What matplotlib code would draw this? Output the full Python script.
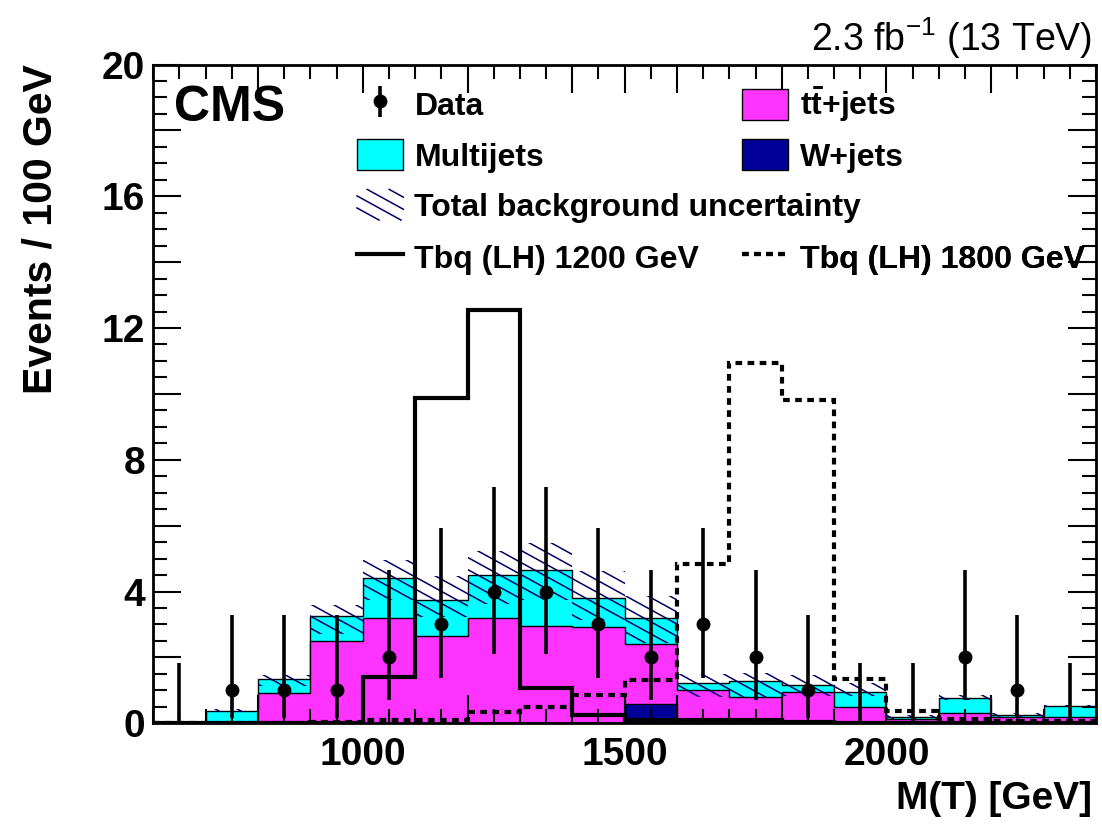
import numpy as np
import matplotlib
matplotlib.use("Agg")
import matplotlib.pyplot as plt
from matplotlib.patches import Patch, PathPatch, Rectangle
from matplotlib.lines import Line2D
from matplotlib.path import Path
from matplotlib.collections import LineCollection
from matplotlib.legend_handler import HandlerBase
from matplotlib.ticker import FixedLocator, MultipleLocator, FuncFormatter

# ---------------- data ----------------
bin_edges = [600, 700, 800, 900, 1000, 1100, 1200, 1300, 1400, 1500,
             1600, 1700, 1800, 1900, 2000, 2100, 2200, 2300, 2400]
data_counts = [0, 1, 1, 1, 2, 3, 4, 4, 3, 2, 3, 2, 1, 0, 0, 2, 1, 0]
data_err_lo = [0, 0.83, 0.83, 0.83, 1.29, 1.63, 1.91, 1.91, 1.63, 1.29,
               1.63, 1.29, 0.83, 0, 0, 1.29, 0.83, 0]
data_err_hi = [1.84, 2.30, 2.30, 2.30, 2.64, 2.92, 3.16, 3.16, 2.92, 2.64,
               2.92, 2.64, 2.30, 1.84, 1.84, 2.64, 2.30, 1.84]
wjets = [0, 0, 0, 0, 0, 0, 0, 0, 0, 0.59, 0, 0, 0, 0, 0, 0, 0, 0]
ttbar = [0, 0.03, 0.93, 2.50, 3.19, 2.66, 3.20, 2.94, 2.92, 1.81,
         1.01, 0.81, 0.95, 0.48, 0.13, 0.30, 0.18, 0.18]
multijet = [0, 0.35, 0.41, 0.77, 1.21, 1.07, 1.31, 1.72, 0.88, 0.79,
            0.22, 0.48, 0.20, 0.47, 0.06, 0.48, 0.07, 0.35]
unc_up = [0, 0.05, 0.13, 0.33, 0.55, 0.73, 0.71, 0.81, 0.81, 0.66,
          0.27, 0.23, 0.33, 0.28, 0.05, 0.07, 0.07, 0.03]
unc_down = [0, 0.05, 0.20, 0.55, 0.66, 0.49, 0.90, 0.91, 0.66, 0.76,
            0.44, 0.48, 0.33, 0.13, 0.05, 0.07, 0.05, 0.03]
sig_1200 = [0, 0, 0, 0, 1.42, 9.87, 12.54, 1.07, 0.25, 0.10,
            0.10, 0.10, 0.03, 0.02, 0.01, 0.01, 0.01, 0.01]
sig_1800 = [0, 0, 0, 0.03, 0.10, 0.10, 0.35, 0.50, 0.87, 1.32,
            4.84, 10.94, 9.80, 1.34, 0.37, 0.13, 0.08, 0.08]
x_labels = [1000, 1500, 2000]
y_labels = [0, 4, 8, 12, 16, 20]

# ---------------- style ----------------
plt.rcParams['font.family'] = ['Liberation Sans', 'DejaVu Sans']
plt.rcParams['mathtext.fontset'] = 'custom'
plt.rcParams['mathtext.rm'] = 'Liberation Sans'
plt.rcParams['mathtext.bf'] = 'Liberation Sans:bold'
plt.rcParams['mathtext.it'] = 'Liberation Sans:italic'

c_multi = '#00FFFF'
c_tt = '#FF33FF'
c_w = '#000099'
c_hatch = '#000066'
HATCH_SLOPE = 0.55     # pixel slope of hatch lines (down to the right)
HATCH_STEP = 22.0      # horizontal spacing of hatch lines in pixels
HATCH_LW = 1.1

W_FIG, H_FIG = 1102, 827
fig = plt.figure(figsize=(W_FIG / 100, H_FIG / 100), dpi=100)
ax_rect = [0.1391, 0.1254, 0.8554, 0.7966]
ax = fig.add_axes(ax_rect)
AX_W = ax_rect[2] * W_FIG
AX_H = ax_rect[3] * H_FIG

edges = np.array(bin_edges, dtype=float)
centers = 0.5 * (edges[:-1] + edges[1:])
w = np.array(wjets)
tt = np.array(ttbar)
mj = np.array(multijet)
top_w = w
top_tt = w + tt
top_mj = w + tt + mj

# stacked backgrounds (ROOT-style: each drawn from zero)
ax.stairs(top_mj, edges, baseline=0, fill=True, facecolor=c_multi,
          edgecolor='black', linewidth=1.0, zorder=1)
ax.stairs(top_tt, edges, baseline=0, fill=True, facecolor=c_tt,
          edgecolor='black', linewidth=1.0, zorder=1.1)
ax.stairs(top_w, edges, baseline=0, fill=True, facecolor=c_w,
          edgecolor='black', linewidth=1.0, zorder=1.2)

# uncertainty band: region = union of rectangles, hatched with clipped lines
up = np.array(unc_up)
dn = np.array(unc_down)
verts, codes = [], []
for xl, xr, b, t in zip(edges[:-1], edges[1:], top_mj - dn, top_mj + up):
    if t - b <= 0:
        continue
    verts += [(xl, b), (xr, b), (xr, t), (xl, t), (xl, b)]
    codes += [Path.MOVETO, Path.LINETO, Path.LINETO, Path.LINETO, Path.CLOSEPOLY]
band = PathPatch(Path(verts, codes), facecolor='none', edgecolor='none',
                 transform=ax.transData)
ax.add_patch(band)
segs = []
x0 = -AX_H / HATCH_SLOPE
while x0 < AX_W:
    segs.append([(x0 / AX_W, 1.0), ((x0 + AX_H / HATCH_SLOPE) / AX_W, 0.0)])
    x0 += HATCH_STEP
hatch_lines = LineCollection(segs, colors=c_hatch, linewidths=HATCH_LW,
                             transform=ax.transAxes, zorder=2)
ax.add_collection(hatch_lines)
hatch_lines.set_clip_path(band)

# signals
ax.stairs(np.array(sig_1200), edges, baseline=0, color='black',
          linewidth=3.0, zorder=3)
ax.stairs(np.array(sig_1800), edges, baseline=0, color='black',
          linewidth=3.0, linestyle=(0, (1.6, 1.3)), zorder=3)

# data
d = np.array(data_counts, dtype=float)
lo = np.array(data_err_lo)
hi = np.array(data_err_hi)
nz = d > 0
z = ~nz
data_handle = ax.errorbar(centers[nz], d[nz], yerr=[lo[nz], hi[nz]], fmt='o',
                          color='black', ms=9, elinewidth=2.6, capsize=0,
                          zorder=4)
ax.errorbar(centers[z], d[z], yerr=[lo[z], hi[z]], fmt='none',
            ecolor='black', elinewidth=2.6, capsize=0, zorder=4)

# axes
ax.set_xlim(bin_edges[0], bin_edges[-1])
ax.set_ylim(0, 20)
xmaj = [800, 1000, 1200, 1400, 1500, 1600, 1800, 2000, 2200]
ax.xaxis.set_major_locator(FixedLocator(xmaj))
ax.xaxis.set_major_formatter(FuncFormatter(
    lambda v, p: f"{int(v)}" if int(round(v)) in x_labels else ""))
ax.xaxis.set_minor_locator(MultipleLocator(50))
ax.yaxis.set_major_locator(MultipleLocator(2))
ax.yaxis.set_major_formatter(FuncFormatter(
    lambda v, p: f"{int(round(v))}" if int(round(v)) in y_labels else ""))
ax.yaxis.set_minor_locator(MultipleLocator(0.5))
ax.tick_params(which='both', direction='in', top=True, right=True,
               width=1.5, colors='black')
ax.tick_params(which='major', length=20, labelsize=28, pad=6)
ax.tick_params(axis='x', which='major', pad=10)
ax.tick_params(which='minor', length=10)
for lab in ax.get_xticklabels() + ax.get_yticklabels():
    lab.set_fontweight('bold')
for s in ax.spines.values():
    s.set_linewidth(2.0)

ax.set_ylabel('Events / 100 GeV', fontsize=29.5, fontweight='bold')
ax.yaxis.set_label_coords(-0.099, 0.75)
fig.text(1092 / W_FIG, 1 - 799 / H_FIG, 'M(T) [GeV]', fontsize=28,
         fontweight='bold', ha='right', va='center')
fig.text(1092 / W_FIG, 1 - 38 / H_FIG, r'2.3 fb$^{-1}$ (13 TeV)', fontsize=27,
         ha='right', va='center')
fig.text(174 / W_FIG, 1 - 108 / H_FIG, 'CMS', fontsize=36, fontweight='bold',
         ha='left', va='center')


# ---------------- legend ----------------
class HatchHandler(HandlerBase):
    def create_artists(self, legend, orig_handle, xdescent, ydescent,
                       width, height, fontsize, trans):
        arts = []
        step = HATCH_STEP * 0.72
        c = 0.0
        while c < height + width * HATCH_SLOPE:
            xa = max(0.0, (c - height) / HATCH_SLOPE)
            xb = min(width, c / HATCH_SLOPE)
            if xb > xa:
                arts.append(Line2D([xa - xdescent, xb - xdescent],
                                   [c - HATCH_SLOPE * xa - ydescent,
                                    c - HATCH_SLOPE * xb - ydescent],
                                   color=c_hatch, linewidth=HATCH_LW,
                                   transform=trans))
            c += step * HATCH_SLOPE
        return arts


h_multi = Patch(facecolor=c_multi, edgecolor='black', linewidth=1.0)
h_tt = Patch(facecolor=c_tt, edgecolor='black', linewidth=1.0)
h_w = Patch(facecolor=c_w, edgecolor='black', linewidth=1.0)
h_unc = Rectangle((0, 0), 1, 1, facecolor='none', edgecolor='none')
h_s12 = Line2D([], [], color='black', linewidth=3.0)
h_s18 = Line2D([], [], color='black', linewidth=3.0, linestyle=(0, (1.6, 1.3)))


def add_entry(handle, label, x_px, y_px, handler_map=None):
    leg = ax.legend([handle], [label], loc='center left',
                    bbox_to_anchor=(x_px / W_FIG, 1 - y_px / H_FIG),
                    bbox_transform=fig.transFigure, frameon=False,
                    prop={'weight': 'bold', 'size': 23},
                    handlelength=1.45, handleheight=1.1, handletextpad=0.35,
                    borderpad=0, borderaxespad=0, handler_map=handler_map)
    ax.add_artist(leg)


col1, col2 = 357, 742
rows = [105, 156, 206, 258]
add_entry(data_handle, 'Data', col1, rows[0])
add_entry(h_multi, 'Multijets', col1, rows[1])
add_entry(h_unc, 'Total background uncertainty', col1, rows[2],
          handler_map={h_unc: HatchHandler()})
add_entry(h_s12, 'Tbq (LH) 1200 GeV', col1, rows[3])
add_entry(h_tt, r'$\mathbf{t\bar{t}}$+jets', col2, rows[0])
add_entry(h_w, 'W+jets', col2, rows[1])
add_entry(h_s18, 'Tbq (LH) 1800 GeV', col2, rows[3])

fig.savefig('out.png', dpi=100)
